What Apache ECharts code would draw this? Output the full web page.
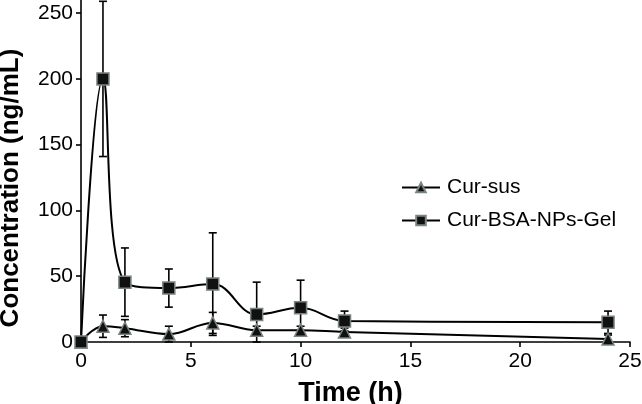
<!DOCTYPE html>
<html><head><meta charset="utf-8">
<script src="https://cdn.jsdelivr.net/npm/echarts@6/dist/echarts.min.js"></script>
<style>html,body{margin:0;padding:0;background:#fff}#c{width:642px;height:404px}</style>
</head><body><div id="c"></div>
<script>
var times = [0, 1, 2, 4, 6, 8, 10, 12, 24];
var susMean = [0, 12, 10.5, 6, 14.5, 9, 9, 7.6, 2.3];
var susErr  = [0, 8.5, 6.5, 6, 8, 3, 3, 3, 3];
var gelMean = [0, 200, 45.5, 41, 44, 21, 26, 16, 15];
var gelErr  = [0, 59, 26, 14.5, 39, 24.5, 21, 7.5, 8.5];
var yTicks = [0, 50, 100, 150, 200, 250];
var seriesNames = ['Cur-sus', 'Cur-BSA-NPs-Gel'];

function pts(m){ return times.map(function(t,i){ return [t, m[i]]; }); }
function errData(m,e){ return times.map(function(t,i){ return [t, m[i]-e[i], m[i]+e[i]]; }); }
function errSeries(m,e){
  return {
    type:'custom', data: errData(m,e), silent:true, z:1,
    renderItem: function(params, api){
      var x = api.value(0);
      var lo = api.coord([x, Math.max(api.value(1), 0)]);
      var hi = api.coord([x, api.value(2)]);
      var w = 4;
      var st = {stroke:'#000', lineWidth:1.6};
      return {type:'group', children:[
        {type:'line', shape:{x1:lo[0],y1:lo[1],x2:hi[0],y2:hi[1]}, style:st},
        {type:'line', shape:{x1:hi[0]-w,y1:hi[1],x2:hi[0]+w,y2:hi[1]}, style:st},
        {type:'line', shape:{x1:lo[0]-w,y1:lo[1],x2:lo[0]+w,y2:lo[1]}, style:st}
      ]};
    }
  };
}
var font = 'Liberation Sans, Arial, sans-serif';
var chart = echarts.init(document.getElementById('c'), null, {renderer:'canvas'});
chart.setOption({
  animation:false,
  backgroundColor:'#fff',
  grid:{left:81, right:12, top:0, bottom:62, containLabel:false, outerBoundsMode:'none'},
  legend:{
    orient:'vertical', left:396, top:172, itemGap:12, itemWidth:38, itemHeight:12,
    textStyle:{fontFamily:font, fontSize:21, color:'#000', padding:[0,0,0,2]},
    data: seriesNames
  },
  xAxis:{
    type:'value', min:0, max:25, interval:5,
    name:'Time (h)', nameLocation:'middle', nameGap:38,
    nameTextStyle:{fontFamily:font, fontSize:27, fontWeight:'bold', color:'#000', padding:[0,10,0,0]},
    axisLine:{lineStyle:{color:'#000', width:1.6}},
    axisTick:{length:5, lineStyle:{color:'#000', width:1.6}},
    axisLabel:{fontFamily:font, fontSize:21, color:'#000', margin:9},
    splitLine:{show:false}
  },
  yAxis:{
    type:'value', min:0, max:260,
    name:'Concentration (ng/mL)', nameLocation:'middle', nameGap:57, nameRotate:90,
    nameTextStyle:{fontFamily:font, fontSize:26, fontWeight:'bold', color:'#000', padding:[0,34,0,0]},
    axisLine:{show:true, lineStyle:{color:'#000', width:1.6}},
    axisTick:{show:true, length:5, customValues:yTicks, lineStyle:{color:'#000', width:1.6}},
    axisLabel:{fontFamily:font, fontSize:21, color:'#000', margin:8, customValues:yTicks},
    splitLine:{show:false}
  },
  series:[
    errSeries(susMean, susErr),
    errSeries(gelMean, gelErr),
    {
      name:seriesNames[0], type:'line', data:pts(susMean), smooth:0.4, z:3,
      symbol:'triangle', symbolSize:12,
      lineStyle:{color:'#000', width:2},
      itemStyle:{color:'#111', borderColor:'#7a8580', borderWidth:1.5}
    },
    {
      name:seriesNames[1], type:'line', data:pts(gelMean), smooth:0.4, z:4,
      symbol:'rect', symbolSize:12,
      lineStyle:{color:'#000', width:2},
      itemStyle:{color:'#111', borderColor:'#7a8580', borderWidth:1.5}
    }
  ]
});
</script></body></html>
